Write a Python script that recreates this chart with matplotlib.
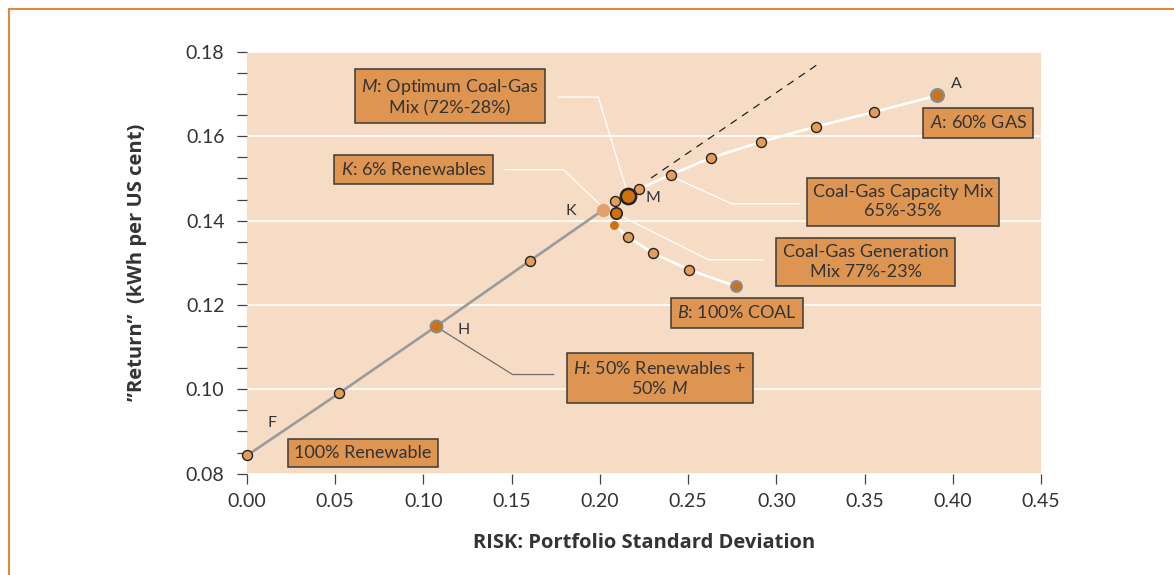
import matplotlib
matplotlib.use("Agg")
import matplotlib.pyplot as plt
from matplotlib.lines import Line2D
from matplotlib.ticker import MultipleLocator

# ---------------- data ----------------
renew_x = [0.0, 0.052, 0.1071, 0.1604, 0.202]
renew_y = [0.0843, 0.099, 0.1149, 0.1305, 0.1426]

upper_x = [0.2086, 0.2158, 0.2224, 0.2402, 0.263, 0.2914, 0.3226, 0.3556, 0.3913]
upper_y = [0.1446, 0.1458, 0.1475, 0.1509, 0.1549, 0.1587, 0.1623, 0.1658, 0.1697]

lower_x = [0.2092, 0.2082, 0.2158, 0.2300, 0.2504, 0.2772]
lower_y = [0.1418, 0.1390, 0.1362, 0.1323, 0.1284, 0.1244]

dash_x = [0.229, 0.3239]
dash_y = [0.1501, 0.1772]

x_ticks = [0.00, 0.05, 0.10, 0.15, 0.20, 0.25, 0.30, 0.35, 0.40, 0.45]
y_ticks = [0.08, 0.10, 0.12, 0.14, 0.16, 0.18]

# ---------------- style ----------------
plt.rcParams['font.family'] = ['Lato', 'DejaVu Sans']
plt.rcParams['mathtext.fontset'] = 'custom'
plt.rcParams['mathtext.rm'] = 'Lato'
plt.rcParams['mathtext.it'] = 'Lato:italic'

BG = '#F6DCC4'
BOX = '#DE9552'
SMALL = '#E49C59'
DARK = '#D0700F'
KCOL = '#E2A06D'
GRAY = '#9B9B9B'
TXT = '#333333'

fig = plt.figure(figsize=(11.74, 5.75), dpi=100)
ax = fig.add_axes([247/1174, 1-473.6/575, (1041-247)/1174, (473.6-52)/575])
ax.set_facecolor(BG)
ax.set_xlim(0, 0.45)
ax.set_ylim(0.08, 0.18)
for s in ax.spines.values():
    s.set_visible(False)

ax.set_xticks(x_ticks)
ax.set_xticklabels([f"{v:.2f}" for v in x_ticks])
ax.set_yticks(y_ticks)
ax.set_yticklabels([f"{v:.2f}" for v in y_ticks])
ax.yaxis.set_minor_locator(MultipleLocator(0.005))
ax.tick_params(axis='both', which='both', direction='out', length=7.2, width=0.9,
               color='#444444', labelcolor=TXT, labelsize=14)
ax.tick_params(axis='y', pad=9)
ax.tick_params(axis='x', pad=7)
ax.grid(axis='y', which='major', color='white', lw=1.2, zorder=0)
ax.set_axisbelow(True)

ax.set_xlabel("RISK: Portfolio Standard Deviation", fontsize=14.5, fontweight='bold',
              color=TXT, family=['Open Sans', 'DejaVu Sans'], labelpad=16)
ax.set_ylabel("\u201dReturn\u201d  (kWh per US cent)", fontsize=14.5, fontweight='bold',
              color=TXT, family=['Open Sans', 'DejaVu Sans'], labelpad=28)

# ---------------- lines ----------------
ax.plot(renew_x, renew_y, color=GRAY, lw=1.9, zorder=2, clip_on=False)
ax.plot(upper_x, upper_y, color='white', lw=1.9, zorder=2)
ax.plot(lower_x, lower_y, color='white', lw=1.9, zorder=2)
ax.plot(dash_x, dash_y, color='#222222', lw=0.9, ls=(0, (6, 5)), zorder=2)

# leader lines
leaders = [
    ([0.1764, 0.1991, 0.2153], [0.1693, 0.1693, 0.1470], 'white'),
    ([0.1463, 0.1793, 0.2011], [0.1521, 0.1521, 0.1434], 'white'),
    ([0.2426, 0.2748, 0.3131], [0.1501, 0.1440, 0.1440], 'white'),
    ([0.2105, 0.2615, 0.2923], [0.1414, 0.1307, 0.1307], 'white'),
]
for lx, ly, c in leaders:
    ax.plot(lx, ly, color=c, lw=0.9, zorder=1.5)
ax.plot([renew_x[2], 0.1505, 0.1738], [renew_y[2], 0.1035, 0.1035], color='#6f6f6f', lw=0.9, zorder=1.5)

# ---------------- markers ----------------
def small(xs, ys):
    ax.plot(xs, ys, 'o', ms=7.2, mfc=SMALL, mec='#222222', mew=1.0, zorder=4, clip_on=False)

small([renew_x[0], renew_x[1], renew_x[3]], [renew_y[0], renew_y[1], renew_y[3]])
small([upper_x[0]] + upper_x[2:8], [upper_y[0]] + upper_y[2:8])
small(lower_x[2:5], lower_y[2:5])

# K
ax.plot(renew_x[4], renew_y[4], 'o', ms=9.6, mfc=KCOL, mec='none', zorder=4)
# H
ax.plot(renew_x[2], renew_y[2], 'o', ms=8.4, mfc=DARK, mec='#8a8a8a', mew=1.6, zorder=4)
# M
ax.plot(upper_x[1], upper_y[1], 'o', ms=11, mfc=DARK, mec='#222222', mew=1.8, zorder=5)
# A
ax.plot(upper_x[8], upper_y[8], 'o', ms=9.0, mfc=DARK, mec='#8a8a8a', mew=1.8, zorder=4)
# generation mix
ax.plot(lower_x[0], lower_y[0], 'o', ms=8.2, mfc=DARK, mec='#222222', mew=1.2, zorder=4)
ax.plot(lower_x[1], lower_y[1], 'o', ms=6.4, mfc=DARK, mec='none', zorder=4)
# B
ax.plot(lower_x[5], lower_y[5], 'o', ms=7.6, mfc=DARK, mec='#8a8a8a', mew=1.6, zorder=4)

# point letters
for t, x, y in [('F', 0.0142, 0.0921), ('H', 0.123, 0.1140), ('K', 0.1835, 0.1424),
                ('M', 0.2303, 0.1454), ('A', 0.4018, 0.1725)]:
    ax.text(x, y, t, fontsize=11.5, color=TXT, ha='center', va='center', zorder=6)

# ---------------- boxes ----------------
bbox = dict(boxstyle='square,pad=0.35', fc=BOX, ec='#3a3a3a', lw=1.1)
boxes = [
    (0.1151, 0.1694, "$\\mathit{M}$: Optimum Coal-Gas\nMix (72%-28%)"),
    (0.0944, 0.1521, "$\\mathit{K}$: 6% Renewables"),
    (0.4144, 0.1632, "$\\mathit{A}$: 60% GAS"),
    (0.3718, 0.1445, "Coal-Gas Capacity Mix\n65%-35%"),
    (0.3506, 0.1302, "Coal-Gas Generation\nMix 77%-23%"),
    (0.2778, 0.1181, "$\\mathit{B}$: 100% COAL"),
    (0.2340, 0.1026, "$\\mathit{H}$: $\\mathit{50\\%}$ Renewables +\n$\\mathit{50\\%\\ M}$"),
    (0.0655, 0.0849, "100% Renewable"),
]
for x, y, t in boxes:
    ax.text(x, y, t, fontsize=13, color=TXT, ha='center', va='center',
            multialignment='center', linespacing=1.25, bbox=bbox, zorder=7)

# ---------------- outer frame ----------------
fig.add_artist(Line2D([8.5/1174, 1], [1-8.5/575, 1-8.5/575], color='#E08A3C', lw=1.5))
fig.add_artist(Line2D([8.5/1174, 8.5/1174], [0, 1-8.5/575], color='#E08A3C', lw=1.5))

fig.savefig("out.png", dpi=100)
